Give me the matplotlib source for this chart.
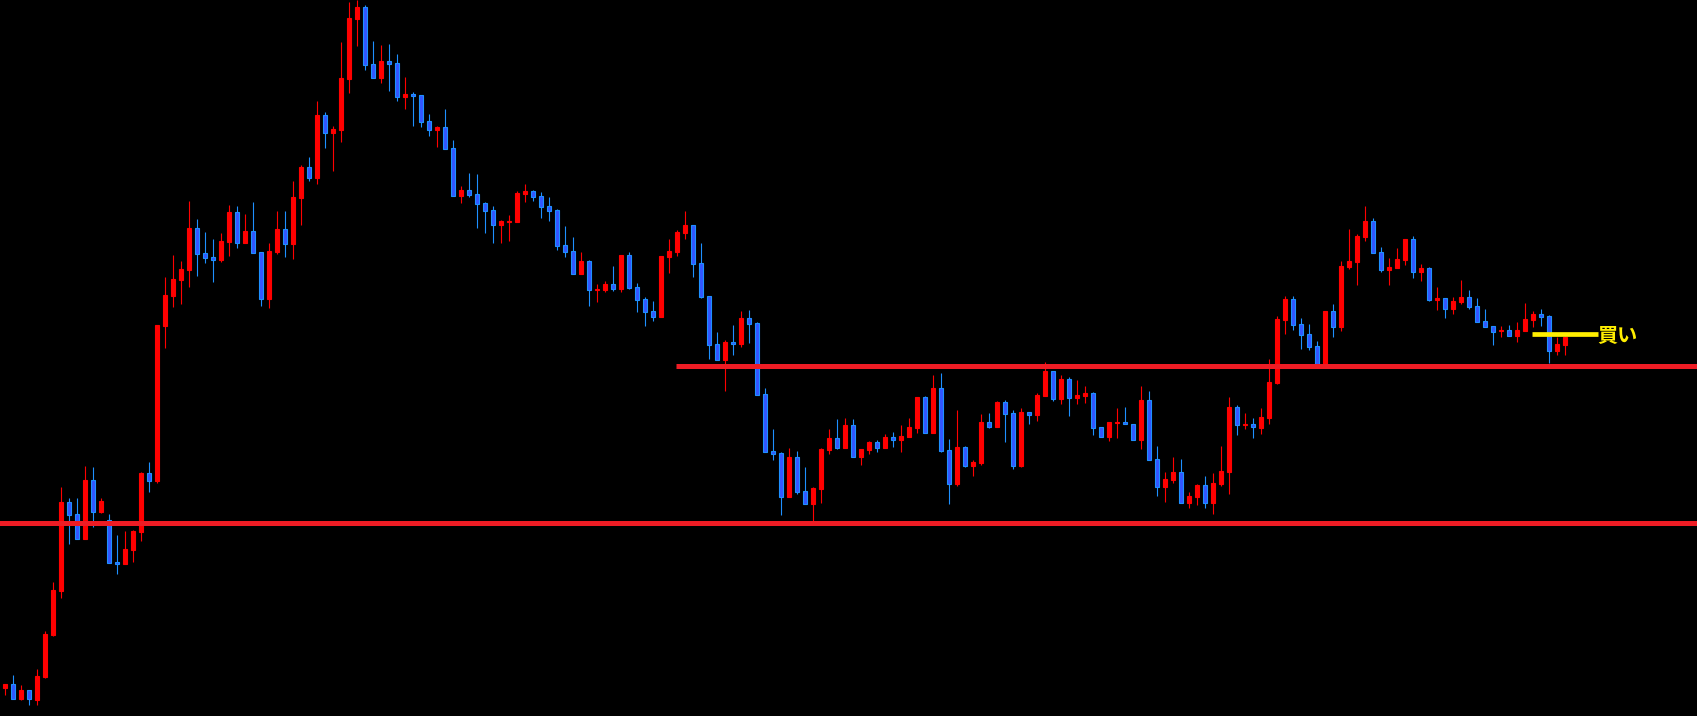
import numpy as np
import matplotlib
matplotlib.use("Agg")
import matplotlib.pyplot as plt

plt.rcParams['font.family'] = ['Noto Sans CJK JP', 'DejaVu Sans']

# OHLC, price units
opens = [28, 32, 17, 26, 16, 39, 81, 125, 214, 202, 177, 236, 204, 196, 154, 152, 166, 184, 243, 235,
         390, 420, 436, 446, 488, 463, 459, 456, 474, 504, 473, 485, 464, 417, 464, 487, 472, 518, 549, 538,
         601, 583, 586, 637, 697, 709, 652, 638, 655, 653, 619, 622, 621, 595, 586, 589, 568, 520, 526, 522,
         513, 506, 491, 494, 494, 522, 525, 520, 510, 506, 471, 465, 442, 455, 426, 426, 432, 427, 461, 429,
         417, 405, 399, 459, 464, 483, 491, 453, 420, 372, 356, 374, 372, 398, 393, 322, 265, 263, 219, 259,
         225, 212, 227, 266, 278, 268, 291, 259, 266, 274, 268, 279, 276, 279, 288, 319, 283, 328, 266, 232,
         269, 250, 253, 294, 289, 314, 303, 250, 304, 301, 320, 345, 317, 337, 318, 320, 323, 289, 279, 293,
         294, 292, 276, 316, 257, 229, 236, 244, 213, 219, 231, 213, 232, 244, 309, 291, 292, 288, 298, 333,
         396, 417, 392, 382, 370, 352, 405, 389, 449, 454, 479, 495, 464, 446, 448, 456, 477, 444, 448, 416,
         418, 407, 414, 419, 410, 395, 390, 385, 386, 380, 385, 396, 402, 400, 365, 371]
highs = [32, 41, 31, 26, 47, 85, 134, 229, 218, 218, 250, 249, 218, 202, 181, 185, 186, 244, 254, 391,
         439, 461, 455, 515, 497, 484, 477, 483, 511, 510, 502, 514, 464, 473, 505, 505, 535, 551, 559, 615,
         604, 590, 674, 714, 716, 711, 675, 671, 672, 662, 639, 624, 621, 602, 590, 607, 576, 530, 543, 542,
         514, 510, 496, 501, 525, 532, 526, 524, 519, 507, 490, 479, 464, 456, 432, 435, 450, 461, 464, 433,
         419, 415, 460, 477, 486, 505, 491, 473, 420, 384, 376, 391, 405, 406, 394, 328, 287, 264, 268, 265,
         249, 229, 268, 287, 297, 298, 297, 267, 275, 276, 282, 284, 291, 298, 319, 320, 341, 343, 277, 306,
         270, 256, 302, 303, 315, 316, 306, 308, 304, 323, 354, 345, 341, 339, 336, 330, 324, 289, 294, 308,
         309, 292, 330, 325, 270, 244, 259, 257, 224, 232, 240, 243, 270, 319, 311, 303, 298, 308, 357, 400,
         420, 420, 398, 392, 375, 405, 412, 455, 487, 482, 510, 498, 469, 458, 468, 477, 480, 452, 449, 429,
         418, 419, 436, 426, 418, 407, 390, 390, 391, 394, 413, 405, 407, 401, 379, 380]
lows = [21, 17, 16, 11, 11, 38, 80, 118, 172, 177, 177, 189, 203, 153, 142, 152, 154, 175, 224, 233,
        368, 409, 412, 429, 440, 453, 434, 454, 460, 468, 473, 463, 410, 408, 462, 459, 457, 491, 535, 532,
        568, 545, 574, 623, 670, 646, 638, 633, 625, 615, 607, 590, 589, 580, 569, 567, 520, 513, 519, 488,
        483, 473, 473, 475, 494, 514, 515, 498, 495, 466, 459, 442, 442, 410, 414, 424, 425, 424, 427, 404,
        390, 395, 399, 443, 460, 477, 439, 418, 357, 356, 325, 361, 369, 373, 321, 264, 256, 201, 219, 222,
        212, 195, 213, 262, 267, 268, 259, 251, 262, 264, 268, 269, 264, 279, 283, 283, 283, 264, 212, 230,
        249, 240, 251, 288, 289, 274, 247, 249, 292, 295, 320, 315, 312, 300, 312, 313, 281, 279, 275, 278,
        292, 276, 267, 256, 220, 214, 233, 213, 208, 211, 208, 202, 230, 222, 281, 287, 278, 282, 292, 332,
        382, 386, 367, 366, 352, 352, 379, 385, 447, 431, 475, 463, 444, 431, 448, 451, 438, 435, 415, 406,
        398, 402, 412, 407, 394, 389, 371, 379, 380, 374, 385, 389, 390, 353, 361, 361]
closes = [32, 17, 26, 17, 40, 82, 126, 214, 201, 177, 236, 204, 215, 153, 152, 167, 185, 243, 235, 391,
          421, 437, 447, 488, 462, 458, 456, 475, 504, 473, 485, 463, 417, 465, 487, 472, 519, 549, 538, 601,
          583, 587, 638, 698, 709, 651, 638, 655, 652, 619, 622, 620, 594, 586, 589, 567, 520, 526, 521, 512,
          505, 491, 495, 495, 523, 525, 519, 509, 505, 470, 464, 442, 455, 426, 427, 432, 427, 461, 428, 416,
          404, 399, 460, 465, 484, 491, 452, 419, 371, 356, 374, 372, 398, 392, 321, 264, 262, 219, 259, 224,
          212, 228, 267, 278, 268, 291, 259, 267, 274, 268, 279, 276, 280, 289, 319, 283, 328, 265, 232, 269,
          250, 254, 294, 289, 314, 302, 250, 304, 301, 321, 345, 317, 337, 318, 321, 323, 288, 279, 294, 294,
          292, 276, 316, 256, 229, 237, 244, 213, 220, 231, 213, 233, 245, 309, 291, 292, 289, 299, 334, 397,
          417, 391, 381, 369, 352, 405, 389, 450, 455, 480, 495, 463, 446, 449, 457, 477, 444, 448, 416, 418,
          407, 415, 419, 409, 394, 389, 384, 386, 380, 386, 397, 402, 399, 365, 372, 379]

# horizontal levels
support = 193
resistance = 350
resistance_from = 83.8
buy_level = 382
buy_from, buy_to = 190.8, 199.1
buy_label = "買い"

UP = '#FF0000'
DOWN_FACE = '#3355FF'
DOWN_EDGE = '#1E90FF'

o = np.array(opens, dtype=float)
h = np.array(highs, dtype=float)
l = np.array(lows, dtype=float)
c = np.array(closes, dtype=float)
x = np.arange(len(o))
up = c >= o

fig = plt.figure(figsize=(16.97, 7.16), dpi=100, facecolor='black')
ax = fig.add_axes([0, 0, 1, 1])
ax.set_facecolor('black')

# wicks
ax.vlines(x[up], l[up], h[up], color=UP, lw=0.8, zorder=2)
ax.vlines(x[~up], l[~up], h[~up], color=DOWN_EDGE, lw=0.8, zorder=2)

# bodies
lo = np.minimum(o, c)
hgt = np.maximum(np.abs(c - o), 0.6)
ax.bar(x[up], hgt[up], bottom=lo[up], width=0.47, color=UP, edgecolor=UP, lw=0.8, zorder=3)
ax.bar(x[~up], hgt[~up], bottom=lo[~up], width=0.47, color=DOWN_FACE, edgecolor=DOWN_EDGE, lw=0.8, zorder=3)

# lines
ax.axhline(support, color='#EE1C24', lw=3.6, zorder=4)
ax.hlines(resistance, resistance_from, 220, color='#EE1C24', lw=3.6, zorder=4)
ax.hlines(buy_level, buy_from, buy_to, color='#FFEE00', lw=3.4, zorder=5)
ax.text(buy_to - 0.1, buy_level - 1.5, buy_label, color='#FFEE00', fontsize=14.5,
        fontweight='bold', va='center', ha='left', zorder=6)

ax.set_xlim(-0.6625, 211.46)
ax.set_ylim(0, 716)
ax.axis('off')

fig.savefig('out.png', dpi=100, facecolor='black')
